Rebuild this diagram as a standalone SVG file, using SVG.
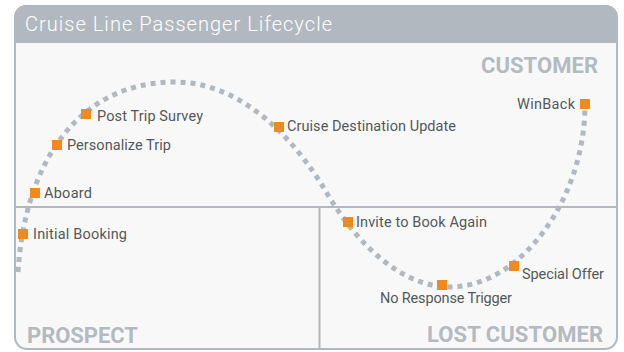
<svg xmlns="http://www.w3.org/2000/svg" width="624" height="352" viewBox="0 0 624 352">
<style>
.lbl{font-family:Roboto,"Liberation Sans",sans-serif;font-size:14.5px;fill:#54585c}
.zone{font-family:Roboto,"Liberation Sans",sans-serif;font-size:22px;font-weight:bold;fill:#b3bac1}
.title{font-family:Roboto,"Liberation Sans",sans-serif;font-size:20px;font-weight:300;fill:#ffffff}
.mk{fill:#f08a1f}
.div{stroke:#b1b8bf;stroke-width:2;fill:none}
.curve{fill:none;stroke:#b1b8bf;stroke-width:5;stroke-dasharray:5 5}
</style>
<g id="frame">
<rect x="15" y="6" width="602" height="343" rx="12" fill="#f8f8f8" stroke="#b1b8bf" stroke-width="2"/>
<path d="M14,43 V18 A12,12 0 0 1 26,5 H606 A12,12 0 0 1 618,18 V43 Z" fill="#b1b8bf"/>
<line class="div" x1="16" y1="207" x2="616" y2="207"/>
<line class="div" x1="319.5" y1="207" x2="319.5" y2="348"/>
<text class="title" x="25" y="30.5" textLength="307">Cruise Line Passenger Lifecycle</text>
</g>
<g id="zones">
<text class="zone" x="481" y="72.5" textLength="117">CUSTOMER</text>
<text class="zone" x="27" y="343" textLength="111">PROSPECT</text>
<text class="zone" x="427" y="342" textLength="176">LOST CUSTOMER</text>
</g>
<g id="connectors">
<path class="curve" d="M18,272 C25,160 80,82 175,82 C242,82 295,140 325,190 C360,250 405,287 450,287 C520,287 585,200 585,104"/>
</g>
<g id="initial-booking"><rect class="mk" x="18" y="229" width="10" height="10"/><text class="lbl" x="33" y="239" textLength="94">Initial Booking</text></g>
<g id="aboard"><rect class="mk" x="30" y="188" width="10" height="10"/><text class="lbl" x="44" y="198" textLength="48">Aboard</text></g>
<g id="personalize-trip"><rect class="mk" x="52" y="140" width="10" height="10"/><text class="lbl" x="67" y="150" textLength="104">Personalize Trip</text></g>
<g id="post-trip-survey"><rect class="mk" x="81" y="109" width="10" height="10"/><text class="lbl" x="97" y="120.5" textLength="106">Post Trip Survey</text></g>
<g id="cruise-destination-update"><rect class="mk" x="274" y="122" width="10" height="10"/><text class="lbl" x="287" y="131" textLength="169">Cruise Destination Update</text></g>
<g id="invite-to-book-again"><rect class="mk" x="343" y="217" width="10" height="10"/><text class="lbl" x="356" y="226.5" textLength="131">Invite to Book Again</text></g>
<g id="no-response-trigger"><rect class="mk" x="437" y="280" width="10" height="10"/><text class="lbl" x="380" y="302.5" textLength="132">No Response Trigger</text></g>
<g id="special-offer"><rect class="mk" x="509" y="261" width="10" height="10"/><text class="lbl" x="522" y="279" textLength="82">Special Offer</text></g>
<g id="winback"><rect class="mk" x="580" y="99" width="10" height="10"/><text class="lbl" x="517" y="109" textLength="58">WinBack</text></g>
</svg>
